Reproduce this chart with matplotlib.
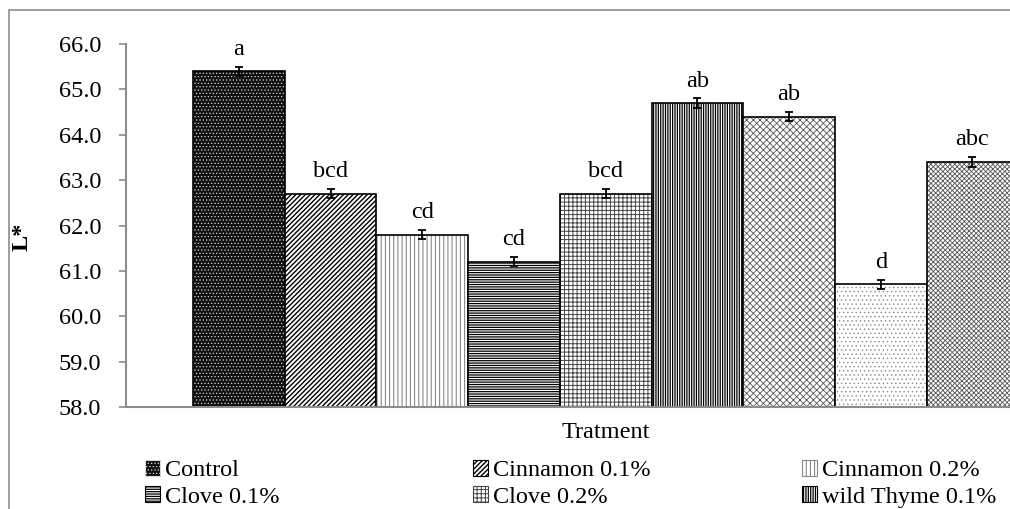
import matplotlib
matplotlib.use("Agg")
import matplotlib.pyplot as plt
from matplotlib.patches import Rectangle, Patch

plt.rcParams['font.family'] = ['Liberation Serif', 'DejaVu Serif']
plt.rcParams['hatch.linewidth'] = 0.8

# data
treatments = ['Control', 'Cinnamon 0.1%', 'Cinnamon 0.2%', 'Clove 0.1%', 'Clove 0.2%',
              'wild Thyme 0.1%', 'wild Thyme 0.2%', 'Treatment 8', 'Treatment 9']
l_star = [65.4, 62.7, 61.8, 61.2, 62.7, 64.7, 64.4, 60.7, 63.4]
errors = [0.1, 0.1, 0.1, 0.1, 0.1, 0.1, 0.1, 0.1, 0.1]
letters = ['a', 'bcd', 'cd', 'cd', 'bcd', 'ab', 'ab', 'd', 'abc']
yticks = [58.0, 59.0, 60.0, 61.0, 62.0, 63.0, 64.0, 65.0, 66.0]

# fill colour, hatch colour, hatch pattern, hatch line width for each bar
styles = [
    ('#101010', '#d8d8d8', '.....', 0.5),
    ('white', 'black', '///////', 1.0),
    ('white', '#8a8a8a', '||||', 0.8),
    ('white', 'black', '-------', 0.9),
    ('white', '#444444', '++++', 0.7),
    ('white', 'black', '|||||||', 0.9),
    ('white', '#555555', 'xxxxx', 0.6),
    ('white', '#8a8a8a', '....', 0.5),
    ('white', '#555555', 'xxxxxxx', 0.6),
]

W, H = 1010, 509
fig = plt.figure(figsize=(W / 100, H / 100), dpi=100)

# outer chart frame (cropped on right and bottom)
fig.add_artist(Rectangle((9 / W, -0.5), 2.0, 1 - 10 / H + 0.5, transform=fig.transFigure,
                         fill=False, edgecolor='#8c8c8c', linewidth=1.2))

# plot area: left edge at x=126 px, 58 at y=407 px, 66 at y=44 px
px_per_bar = 91.7
x_left = -0.5 - 67 / px_per_bar
x_right = len(l_star) - 0.5 + 67 / px_per_bar
ax_w = (x_right - x_left) * px_per_bar
ax = fig.add_axes([126 / W, 1 - 407 / H, ax_w / W, (407 - 44) / H])


def set_hlw(patch, lw):
    if hasattr(patch, 'set_hatch_linewidth'):
        patch.set_hatch_linewidth(lw)


xs = list(range(len(l_star)))
for x, v, (fc, hc, hatch, hlw) in zip(xs, l_star, styles):
    with plt.rc_context({'hatch.linewidth': hlw}):
        bars = ax.bar(x, v, width=1.0, color=fc, edgecolor=hc, hatch=hatch, linewidth=0)
    for b in bars:
        set_hlw(b, hlw)
    ax.bar(x, v, width=1.0, fill=False, edgecolor='black', linewidth=1.2)

ax.errorbar(xs, l_star, yerr=errors, fmt='none', ecolor='black', elinewidth=1.3,
            capsize=3.2, capthick=1.3)

for x, v, e, t in zip(xs, l_star, errors, letters):
    ax.annotate(t, (x, v + e), xytext=(0, 5), textcoords='offset points',
                ha='center', va='bottom', fontsize=17.5)

ax.set_xlim(x_left, x_right)
ax.set_ylim(58, 66)
ax.set_yticks(yticks)
ax.set_yticklabels([f'{t:.1f}' for t in yticks], fontsize=17.5)
ax.set_xticks([])
ax.tick_params(axis='y', length=5, width=1.2, color='#8c8c8c', pad=13)
for s in ['top', 'right']:
    ax.spines[s].set_visible(False)
for s in ['left', 'bottom']:
    ax.spines[s].set_color('#8c8c8c')
    ax.spines[s].set_linewidth(1.5)

ax.set_ylabel('L*', fontsize=17.5, fontweight='bold')
ax.yaxis.set_label_coords((33 - 126) / ax_w, 0.47)
fig.text(606 / W, 1 - 433 / H, 'Tratment', ha='center', va='center', fontsize=17.5)

# legend: three equal-width columns, only the first two rows are in view
col_x = [145, 473, 802]
for c in range(3):
    idx = [c, c + 3]
    handles = []
    for i in idx:
        fc, hc, hatch, hlw = styles[i]
        with plt.rc_context({'hatch.linewidth': hlw}):
            p = Patch(facecolor=fc, edgecolor=hc, hatch=hatch)
        set_hlw(p, hlw)
        handles.append(p)
    leg = fig.legend(handles, [treatments[i] for i in idx],
                     loc='upper left', bbox_to_anchor=(col_x[c] / W, 1 - 460 / H),
                     frameon=False, fontsize=17.5, handlelength=0.62, handleheight=0.62,
                     handletextpad=0.2, labelspacing=0.2, borderpad=0, borderaxespad=0)
    for p, (_, _, _, hlw) in zip(leg.get_patches(), [styles[i] for i in idx]):
        p.set_linewidth(0.8)
        set_hlw(p, hlw)

fig.savefig('out.png', dpi=100)
